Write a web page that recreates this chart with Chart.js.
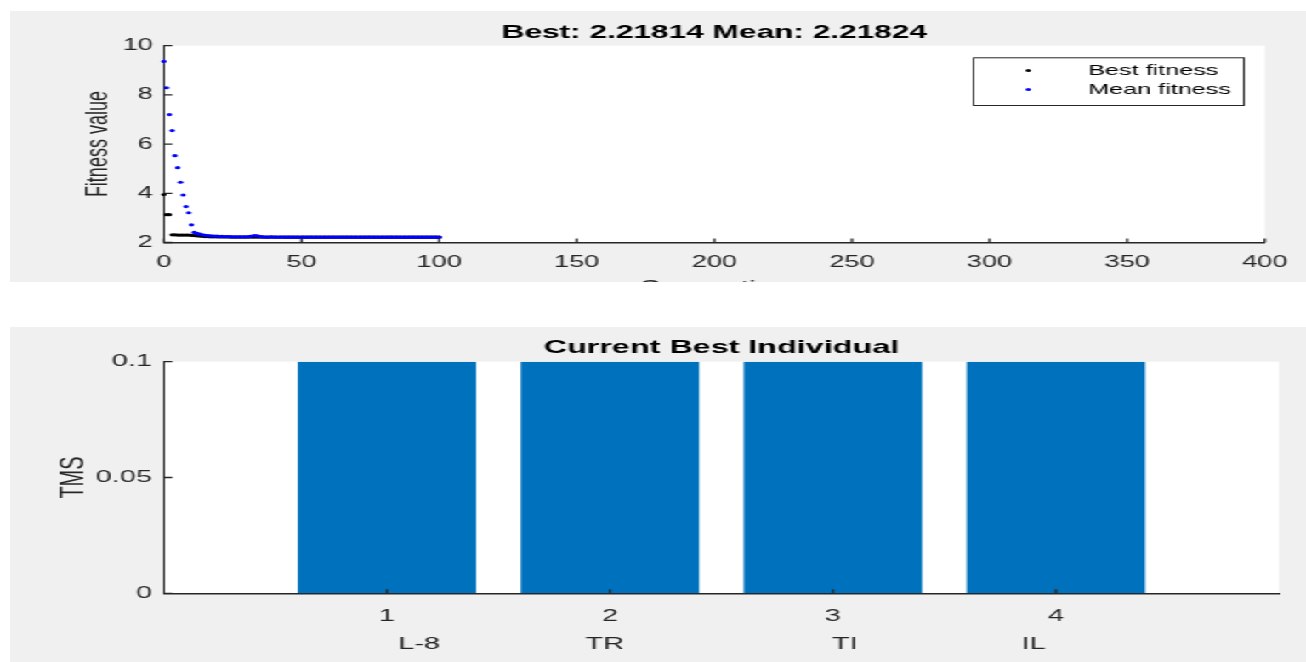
<!DOCTYPE html>
<html>
<head>
<meta charset="utf-8">
<title>GA progress</title>
<script src="https://cdn.jsdelivr.net/npm/chart.js@4.4.1/dist/chart.umd.min.js"></script>
<style>
  html, body { margin: 0; padding: 0; background: #fff; overflow: hidden; }
  /* figure is laid out narrow and stretched sideways */
  #stage { position: absolute; left: 0; top: 0; width: 768px; height: 662px; transform: scaleX(1.7005); transform-origin: 0 0; }
  canvas { position: absolute; background: #f0f0f0; }
  #fitness { left: 6px; top: 11px; }
  #individual { left: 6px; top: 327px; }
</style>
</head>
<body>
<div id="stage">
  <canvas id="fitness" width="762" height="271"></canvas>
  <canvas id="individual" width="762" height="335"></canvas>
</div>
<script>
// fitness per generation (index = generation 0..100)
const meanFitness = [
  9.36, 8.29, 7.20, 6.55, 5.53, 5.04, 4.45, 3.93, 3.46, 3.21,
  2.72, 2.41, 2.37, 2.34, 2.31, 2.29, 2.28, 2.27, 2.26, 2.26,
  2.25, 2.25, 2.24, 2.24, 2.24, 2.23, 2.23, 2.23, 2.23, 2.23,
  2.23, 2.24, 2.26, 2.28, 2.27, 2.24, 2.23, 2.22, 2.22, 2.23,
  2.22, 2.22, 2.22, 2.221, 2.22, 2.22, 2.219, 2.22, 2.22, 2.22,
  2.22, 2.219, 2.22, 2.22, 2.22, 2.221, 2.22, 2.219, 2.219, 2.22,
  2.219, 2.219, 2.22, 2.219, 2.219, 2.219, 2.22, 2.219, 2.219, 2.219,
  2.219, 2.219, 2.218, 2.219, 2.219, 2.219, 2.218, 2.219, 2.218, 2.218,
  2.219, 2.218, 2.218, 2.218, 2.219, 2.218, 2.218, 2.218, 2.218, 2.218,
  2.218, 2.218, 2.218, 2.218, 2.218, 2.218, 2.218, 2.218, 2.218, 2.218,
  2.21824
];
const bestFitness = [
  3.95, 3.13, 3.13, 2.31, 2.31, 2.30, 2.30, 2.30, 2.30, 2.30,
  2.29, 2.28, 2.27, 2.26, 2.25, 2.24, 2.24, 2.23, 2.23, 2.23,
  2.225, 2.225, 2.224, 2.223, 2.222, 2.222, 2.221, 2.221, 2.220, 2.220,
  2.220, 2.2198, 2.2196, 2.2194, 2.2192, 2.219, 2.219, 2.2188, 2.2188, 2.2186,
  2.2186, 2.2185, 2.2185, 2.2185, 2.2184, 2.2184, 2.2184, 2.2184, 2.2183, 2.2183,
  2.2183, 2.2183, 2.2183, 2.2183, 2.2182, 2.2182, 2.2182, 2.2182, 2.2182, 2.2182,
  2.2182, 2.2182, 2.2182, 2.2182, 2.2182, 2.2182, 2.21815, 2.21815, 2.21815, 2.21815,
  2.21815, 2.21815, 2.21815, 2.21815, 2.21815, 2.21815, 2.21815, 2.21815, 2.21815, 2.21815,
  2.21814, 2.21814, 2.21814, 2.21814, 2.21814, 2.21814, 2.21814, 2.21814, 2.21814, 2.21814,
  2.21814, 2.21814, 2.21814, 2.21814, 2.21814, 2.21814, 2.21814, 2.21814, 2.21814, 2.21814,
  2.21814
];

// current best individual
const relayIds = [1, 2, 3, 4];
const relayNames = ['L-8', 'TR', 'TI', 'IL'];
const tmsValues = [0.1, 0.1, 0.1, 0.1];

const FONT = '"Liberation Sans", Arial, Helvetica, sans-serif';
const INK = '#262626';

// white axes background
const plotBg = {
  id: 'plotBg',
  beforeDraw(chart) {
    const { ctx, chartArea: a } = chart;
    ctx.save();
    ctx.fillStyle = '#fff';
    ctx.fillRect(a.left, a.top, a.right - a.left, a.bottom - a.top);
    ctx.restore();
  }
};

// tick marks pointing into the axes
const inwardTicks = {
  id: 'inwardTicks',
  afterDatasetsDraw(chart, args, opts) {
    const { ctx, chartArea: a, scales: { x, y } } = chart;
    ctx.save();
    ctx.strokeStyle = INK;
    ctx.lineWidth = 1.3;
    ctx.beginPath();
    x.ticks.forEach(t => {
      const px = x.getPixelForValue(t.value);
      ctx.moveTo(px, a.bottom);
      ctx.lineTo(px, a.bottom - opts.xLen);
    });
    y.ticks.forEach(t => {
      const py = y.getPixelForValue(t.value);
      ctx.moveTo(a.left, py);
      ctx.lineTo(a.left + opts.yLen, py);
    });
    ctx.stroke();
    ctx.restore();
  }
};

// titles and axis labels
const labels = {
  id: 'labels',
  afterDraw(chart, args, o) {
    const { ctx, chartArea: a } = chart;
    const cx = (a.left + a.right) / 2;
    ctx.save();
    ctx.fillStyle = '#000';
    ctx.textAlign = 'center';
    ctx.textBaseline = 'middle';
    ctx.font = 'bold ' + o.titleSize + 'px ' + FONT;
    ctx.fillText(o.title, cx, o.titleY);

    ctx.fillStyle = INK;
    ctx.save();
    ctx.translate(o.yLabelX, (a.top + a.bottom) / 2);
    ctx.rotate(-Math.PI / 2);
    ctx.font = o.yLabelSize + 'px ' + FONT;
    ctx.fillText(o.yLabel, 0, 0);
    ctx.restore();

    if (o.xLabel) {
      ctx.textBaseline = 'alphabetic';
      ctx.font = o.xLabelSize + 'px ' + FONT;
      ctx.fillText(o.xLabel, cx, o.xLabelY);
    }
    ctx.restore();
  }
};

// boxed legend inside the upper right of the axes
const boxLegend = {
  id: 'boxLegend',
  afterDraw(chart, args, o) {
    const { ctx } = chart;
    ctx.save();
    ctx.fillStyle = '#fff';
    ctx.fillRect(o.left, o.top, o.width, o.height);
    ctx.strokeStyle = INK;
    ctx.lineWidth = 1;
    ctx.strokeRect(o.left + 0.5, o.top + 0.5, o.width, o.height);
    ctx.font = o.size + 'px ' + FONT;
    ctx.textBaseline = 'middle';
    ctx.textAlign = 'left';
    o.order.forEach((di, row) => {
      const ds = chart.data.datasets[di];
      const yy = o.top + o.firstRow + row * o.rowGap;
      ctx.fillStyle = ds.backgroundColor;
      ctx.beginPath();
      ctx.arc(o.markX, yy, 1.5, 0, Math.PI * 2);
      ctx.fill();
      ctx.fillStyle = '#000';
      ctx.fillText(ds.label, o.textX, yy);
    });
    ctx.restore();
  }
};

// relay names under the numeric ticks
const relayRow = {
  id: 'relayRow',
  afterDraw(chart, args, o) {
    const { ctx, scales: { x } } = chart;
    ctx.save();
    ctx.fillStyle = INK;
    ctx.font = o.size + 'px ' + FONT;
    ctx.textAlign = 'center';
    ctx.textBaseline = 'middle';
    relayIds.forEach((id, i) => {
      ctx.fillText(relayNames[i], x.getPixelForValue(id) + o.dx[i], o.y);
    });
    ctx.restore();
  }
};

const gridOff = { display: false, drawOnChartArea: false, drawTicks: false };
const xBorder = { display: true, color: INK, width: 1.6 };
const yBorder = { display: true, color: INK, width: 1 };

new Chart(document.getElementById('fitness'), {
  type: 'scatter',
  data: {
    datasets: [
      {
        label: 'Best fitness',
        data: bestFitness.map((v, g) => ({ x: g, y: v })),
        backgroundColor: '#000000',
        borderColor: '#000000',
        pointRadius: 1.6,
        pointBorderWidth: 0,
        order: 2
      },
      {
        label: 'Mean fitness',
        data: meanFitness.map((v, g) => ({ x: g, y: v })),
        backgroundColor: '#0000ff',
        borderColor: '#0000ff',
        pointRadius: 1.6,
        pointBorderWidth: 0,
        order: 1
      }
    ]
  },
  options: {
    responsive: false,
    animation: false,
    devicePixelRatio: 1,
    clip: false,
    layout: { padding: { top: 34.7, right: 21.2, left: 0, bottom: 0 } },
    scales: {
      x: {
        type: 'linear',
        min: 0, max: 400,
        grid: gridOff,
        border: xBorder,
        ticks: { stepSize: 50, padding: 10.9, color: INK, maxRotation: 0, font: { family: FONT, size: 16 } },
        afterFit(s) { s.height = 39.5; }
      },
      y: {
        min: 2, max: 10,
        grid: gridOff,
        border: yBorder,
        ticks: { stepSize: 2, padding: 6.4, color: INK, font: { family: FONT, size: 16 } },
        afterFit(s) { s.width = 90.4; }
      }
    },
    plugins: {
      legend: { display: false },
      tooltip: { enabled: false },
      inwardTicks: { xLen: 4, yLen: 5 },
      labels: {
        title: 'Best: 2.21814 Mean: 2.21824', titleSize: 18.6, titleY: 22,
        yLabel: 'Fitness value', yLabelSize: 18, yLabelX: 52.4,
        xLabel: 'Generation', xLabelSize: 18, xLabelY: 282
      },
      boxLegend: {
        left: 566, top: 46.3, width: 159, height: 47.7,
        firstRow: 13.2, rowGap: 19, markX: 598.7, textX: 634, size: 14.8,
        order: [0, 1]
      }
    }
  },
  plugins: [plotBg, inwardTicks, labels, boxLegend]
});

new Chart(document.getElementById('individual'), {
  type: 'bar',
  data: {
    datasets: [{
      label: 'TMS',
      data: relayIds.map((id, i) => ({ x: id, y: tmsValues[i] })),
      backgroundColor: '#0072BD',
      borderWidth: 0,
      barPercentage: 0.8,
      categoryPercentage: 1
    }]
  },
  options: {
    responsive: false,
    animation: false,
    devicePixelRatio: 1,
    layout: { padding: { top: 34.7, right: 15.9, left: 0, bottom: 0 } },
    scales: {
      x: {
        type: 'linear',
        min: 0, max: 5,
        offset: false,
        grid: gridOff,
        border: xBorder,
        afterBuildTicks(s) { s.ticks = relayIds.map(v => ({ value: v })); },
        ticks: { padding: 12.5, color: INK, maxRotation: 0, font: { family: FONT, size: 17 } },
        afterFit(s) { s.height = 68.7; }
      },
      y: {
        min: 0, max: 0.1,
        grid: gridOff,
        border: yBorder,
        ticks: {
          stepSize: 0.05, padding: 7, color: INK, font: { family: FONT, size: 17 },
          callback: v => String(parseFloat(v.toFixed(4)))
        },
        afterFit(s) { s.width = 90.4; }
      }
    },
    plugins: {
      legend: { display: false },
      tooltip: { enabled: false },
      inwardTicks: { xLen: 4, yLen: 5 },
      labels: {
        title: 'Current Best Individual', titleSize: 19, titleY: 20.5,
        yLabel: 'TMS', yLabelSize: 20, yLabelX: 37.5
      },
      relayRow: { y: 317.5, size: 17, dx: [19, -3, 7, -13] }
    }
  },
  plugins: [plotBg, inwardTicks, labels, relayRow]
});
</script>
</body>
</html>
